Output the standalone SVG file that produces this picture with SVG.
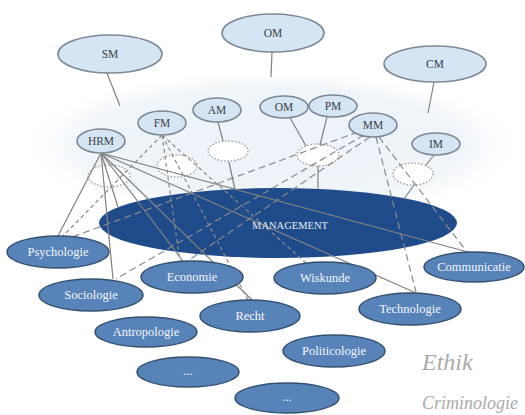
<svg xmlns="http://www.w3.org/2000/svg" width="525" height="415" viewBox="0 0 525 415">
  <defs>
    <radialGradient id="haze" cx="0.5" cy="0.5" r="0.5">
      <stop offset="0" stop-color="#ecf2f8"/>
      <stop offset="0.75" stop-color="#f0f5f9"/>
      <stop offset="1" stop-color="#ffffff" stop-opacity="0"/>
    </radialGradient>
  </defs>
  <style>
    .top ellipse { fill: #d5e5f4; stroke: #7d8894; stroke-width: 1.6; }
    .top text { font-family: "Liberation Serif", serif; font-size: 11.5px; fill: #3b3f45; text-anchor: middle; }
    .hole { fill: #ffffff; stroke: #9a9a9a; stroke-width: 1.3; stroke-dasharray: 1.5 1.8; }
    .base ellipse { fill: #5783b9; stroke: #34506f; stroke-width: 1.4; }
    .base text { font-family: "Liberation Serif", serif; font-size: 12.5px; fill: #f3f6fb; text-anchor: middle; }
    .solid { stroke: #808080; stroke-width: 1.2; fill: none; }
    .dash { stroke: #8a8a8a; stroke-width: 1.2; fill: none; stroke-dasharray: 4 3; }
    .ldash { stroke: #8a8a8a; stroke-width: 1.2; fill: none; stroke-dasharray: 7 4; }
    .mgmt { font-family: "Liberation Serif", serif; font-size: 10.5px; fill: #e6ebf2; text-anchor: middle; }
    .hand { font-family: "Liberation Serif", serif; font-style: italic; fill: #aaaaaa; }
  </style>

  <rect width="525" height="415" fill="#ffffff"/>
  <!-- soft band behind the middle layer -->
  <ellipse cx="272" cy="145" rx="255" ry="78" fill="url(#haze)"/>

  <!-- base platform -->
  <g id="management">
    <ellipse cx="278" cy="223" rx="179" ry="35" fill="#1f4b8a"/>
  </g>

  <!-- placeholder (dotted) ellipses -->
  <g id="hole-hrm"><ellipse class="hole" cx="109" cy="176" rx="21" ry="11"/></g>
  <g id="hole-fm"><ellipse class="hole" cx="177" cy="166" rx="20" ry="11"/></g>
  <g id="hole-am"><ellipse class="hole" cx="228" cy="151" rx="20" ry="10"/></g>
  <g id="hole-ompm"><ellipse class="hole" cx="318" cy="155" rx="21" ry="11"/></g>
  <g id="hole-im"><ellipse class="hole" cx="413" cy="174" rx="20" ry="11"/></g>

  <g id="connectors">
    <!-- upper level links -->
    <line class="solid" x1="107" y1="73" x2="120" y2="106"/>
    <line class="solid" x1="272" y1="52" x2="271" y2="77"/>
    <line class="solid" x1="434" y1="82" x2="428" y2="113"/>
    <line class="solid" x1="218" y1="122" x2="223" y2="141"/>
    <line class="solid" x1="229" y1="162" x2="235" y2="190"/>
    <line class="solid" x1="289" y1="116" x2="306" y2="146"/>
    <line class="solid" x1="327" y1="117" x2="320" y2="145"/>
    <line class="solid" x1="318" y1="166" x2="318" y2="189"/>
    <line class="solid" x1="434" y1="155" x2="426" y2="165"/>
    <line class="solid" x1="414" y1="185" x2="404" y2="199"/>

    <!-- HRM fan -->
    <line class="solid" x1="101" y1="153" x2="58" y2="236"/>
    <line class="solid" x1="101" y1="153" x2="113" y2="279"/>
    <line class="solid" x1="101" y1="153" x2="118" y2="207"/>
    <line class="solid" x1="101" y1="153" x2="183" y2="261"/>
    <line class="solid" x1="101" y1="153" x2="252" y2="300"/>
    <line class="solid" x1="101" y1="153" x2="416" y2="293"/>
    <line class="solid" x1="101" y1="153" x2="468" y2="252"/>

    <!-- FM fan -->
    <line class="dash" x1="162" y1="135" x2="62" y2="237"/>
    <line class="dash" x1="162" y1="135" x2="180" y2="262"/>
    <line class="dash" x1="162" y1="135" x2="248" y2="300"/>
    <line class="dash" x1="162" y1="135" x2="306" y2="263"/>

    <!-- MM fan -->
    <line class="ldash" x1="358" y1="132" x2="64" y2="240"/>
    <line class="ldash" x1="364" y1="135" x2="116" y2="279"/>
    <line class="ldash" x1="370" y1="137" x2="186" y2="262"/>
    <line class="ldash" x1="376" y1="137" x2="416" y2="292"/>
    <line class="ldash" x1="379" y1="137" x2="467" y2="252"/>
  </g>

  <g id="management-label">
    <text class="mgmt" x="290" y="229">MANAGEMENT</text>
  </g>

  <!-- upper level -->
  <g id="sm" class="top"><ellipse cx="110" cy="54" rx="52" ry="19"/><text x="110" y="58">SM</text></g>
  <g id="om-top" class="top"><ellipse cx="273" cy="33" rx="51" ry="19"/><text x="273" y="37">OM</text></g>
  <g id="cm" class="top"><ellipse cx="435" cy="64" rx="51" ry="18"/><text x="435" y="68">CM</text></g>

  <!-- middle level -->
  <g id="hrm" class="top"><ellipse cx="101" cy="141" rx="24" ry="12"/><text x="101" y="145">HRM</text></g>
  <g id="fm" class="top"><ellipse cx="162" cy="123" rx="24" ry="12"/><text x="162" y="127">FM</text></g>
  <g id="am" class="top"><ellipse cx="217" cy="110" rx="24" ry="12"/><text x="217" y="114">AM</text></g>
  <g id="om" class="top"><ellipse cx="284" cy="107" rx="24" ry="11"/><text x="284" y="111">OM</text></g>
  <g id="pm" class="top"><ellipse cx="333" cy="106" rx="24" ry="11"/><text x="333" y="110">PM</text></g>
  <g id="mm" class="top"><ellipse cx="373" cy="125" rx="24" ry="12"/><text x="373" y="129">MM</text></g>
  <g id="im" class="top"><ellipse cx="436" cy="144" rx="24" ry="11"/><text x="436" y="148">IM</text></g>

  <!-- disciplines -->
  <g id="psychologie" class="base"><ellipse cx="58" cy="252" rx="51" ry="16"/><text x="58" y="256">Psychologie</text></g>
  <g id="sociologie" class="base"><ellipse cx="91" cy="295" rx="52" ry="16"/><text x="91" y="299">Sociologie</text></g>
  <g id="economie" class="base"><ellipse cx="192" cy="277" rx="51" ry="16"/><text x="192" y="281">Economie</text></g>
  <g id="antropologie" class="base"><ellipse cx="146" cy="332" rx="51" ry="15"/><text x="146" y="336">Antropologie</text></g>
  <g id="recht" class="base"><ellipse cx="250" cy="316" rx="50" ry="16"/><text x="250" y="320">Recht</text></g>
  <g id="more-1" class="base"><ellipse cx="188" cy="372" rx="51" ry="15"/><text x="188" y="375">...</text></g>
  <g id="more-2" class="base"><ellipse cx="287" cy="398" rx="52" ry="15"/><text x="287" y="401">...</text></g>
  <g id="wiskunde" class="base"><ellipse cx="325" cy="278" rx="51" ry="16"/><text x="325" y="282">Wiskunde</text></g>
  <g id="communicatie" class="base"><ellipse cx="474" cy="267" rx="50" ry="15"/><text x="474" y="271">Communicatie</text></g>
  <g id="technologie" class="base"><ellipse cx="410" cy="309" rx="51" ry="16"/><text x="410" y="313">Technologie</text></g>
  <g id="politicologie" class="base"><ellipse cx="334" cy="351" rx="51" ry="16"/><text x="334" y="355">Politicologie</text></g>

  <!-- handwritten note -->
  <text class="hand" x="422" y="370" font-size="24">Ethik</text>
  <text class="hand" x="422" y="409" font-size="18">Criminologie</text>
</svg>
